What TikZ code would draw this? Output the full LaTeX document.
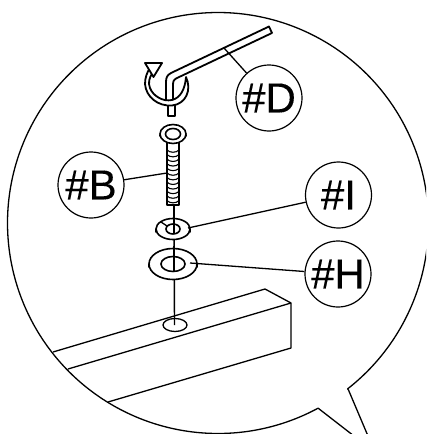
\documentclass[tikz,border=0pt]{standalone}
\usepackage{fontspec}
\setmainfont{Liberation Sans}[FakeBold=0.25]
\tikzset{
  ln/.style={line width=1.3pt,line join=round},
  wl/.style={line width=1.6pt,line join=round,fill=white},
  hv/.style={line width=1.8pt,line join=round},
  callout/.style={circle,draw,line width=1.2pt,fill=white,inner sep=0pt,minimum size=66pt,font=\fontsize{42}{42}\selectfont},
}
\begin{document}
\begin{tikzpicture}[x=1pt,y=-1pt]
\useasboundingbox (0,0) rectangle (426,434);
\clip (0,0) rectangle (426,434);
% balloon outline
\draw[ln] (368,436) -- (348.5,390) -- plot[domain=52:-298.4,samples=240,smooth] ({218+210.5*cos(\x)},{223+210.5*sin(\x)}) -- (354,436);
% beam
\draw[ln] (53,352) -- (265,289) -- (291,303) -- (291,348) -- (108,402);
\draw[ln] (68,369) -- (291,303);
\draw[ln] (175,325) ellipse[x radius=12,y radius=6.5];
% guide line
\coordinate (tip) at (174,203);
\coordinate (hole) at (174.5,325);
\draw[hv,line width=1.4pt] (tip) -- (hole);
% lower washer H
\draw[wl] (149,264) -- (149,267) arc[start angle=180,end angle=360,x radius=24,y radius=15] -- (197,264);
\draw[wl] (173,264) ellipse[x radius=24,y radius=15.5];
\draw[wl] (173,264) ellipse[x radius=12,y radius=7.5];
\draw[hv,line width=1.4pt] (174,246) -- (174,271);
% washer I
\draw[wl] (156,229) -- (156,232) arc[start angle=180,end angle=360,x radius=17,y radius=10] -- (190,229);
\draw[wl] (173,229) ellipse[x radius=17,y radius=10.5];
\draw[wl] (173,229) ellipse[x radius=7,y radius=5];
\draw[ln] (161,222) -- (167,226);
\draw[hv,line width=1.4pt] (174,203) -- (174,234);
% bolt shaft
\draw[wl] (167,142) -- (167,205) -- (179,205) -- (179,142) -- cycle;
\foreach \yy in {150,154.6,...,204}{
  \draw[line width=1.1pt] (167,\yy) .. controls (170,\yy+3) and (176,\yy+3) .. (179,\yy);
}
% bolt head
\draw[wl] (160,135) -- (160,136) arc[start angle=180,end angle=360,x radius=13,y radius=9.5] -- (186,135);
\draw[wl] (173,134) ellipse[x radius=13,y radius=9.5];
\draw[wl] (173,134) ellipse[x radius=7.5,y radius=5.5];
% hex key
\draw[hv,fill=white] (168,103) -- (168,116) -- (175,116) -- (175,103) -- cycle;
\draw[hv,fill=white] (269,26.5) -- (171,73) .. controls (167,75) and (166,78) .. (166,82) -- (166,103) -- (173,103) -- (173,85) .. controls (173,81) and (174,79.5) .. (176,78.5) -- (272,33) -- cycle;
% rotation arrow
\coordinate (a1) at (186,77);
\draw[hv,fill=white] (a1) .. controls (192,90) and (186,104) .. (172,105.5) .. controls (158,106.5) and (146,97) .. (145,84) .. controls (145,78) and (147,72) .. (150,68) -- (152.5,73) .. controls (149,78) and (148,83) .. (150,88) .. controls (153,96) and (163,102) .. (172,100) .. controls (180,98) and (185,90) .. (a1) -- cycle;
\draw[hv,fill=white] (145,63) -- (162,63) -- (153.5,77) -- cycle;
% leaders
\coordinate (kD) at (224,48);
\coordinate (kB) at (167,173);
\coordinate (kI) at (188,228);
\coordinate (kH) at (190,263);
% callouts
\node[callout] (D) at (269,98) {\#D};
\node[callout] (B) at (91,185) {\#B};
\node[callout] (I) at (338.5,195) {\#I};
\node[callout] (H) at (338,274) {\#H};
\draw[ln] (kD) -- (D);
\draw[ln] (kB) -- (B);
\draw[ln] (kI) -- (I);
\draw[ln] (kH) -- (H);
\end{tikzpicture}
\end{document}
